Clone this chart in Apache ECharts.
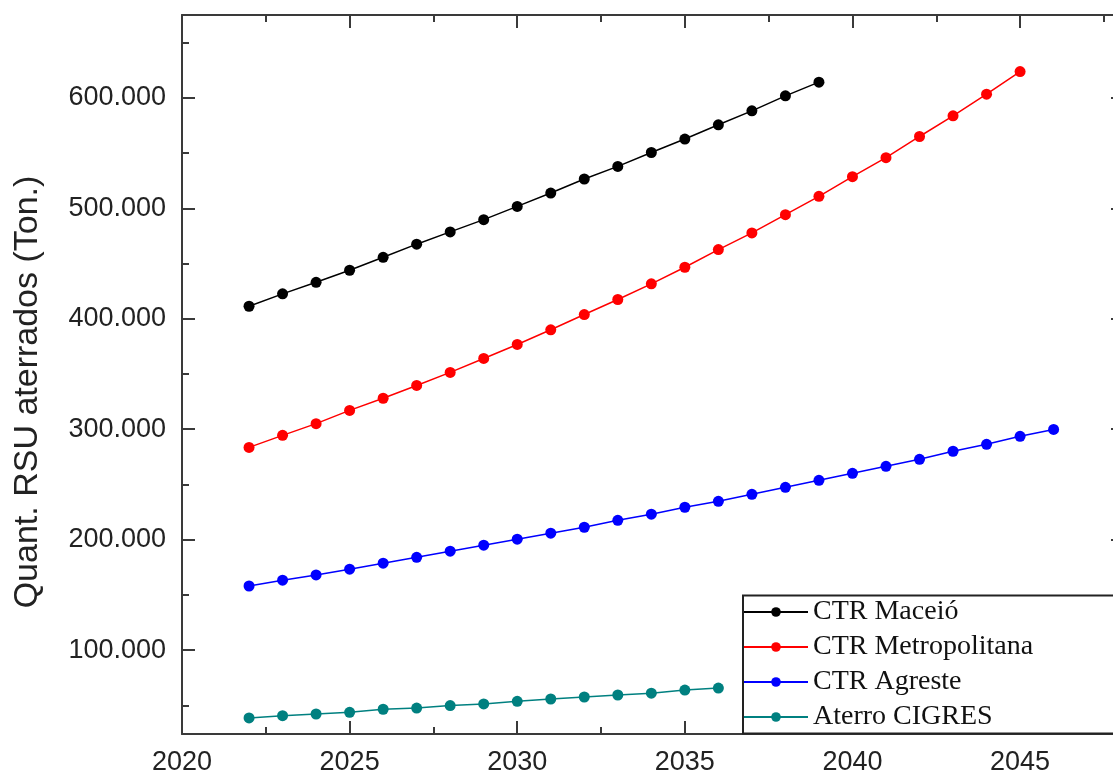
<!DOCTYPE html>
<html>
<head>
<meta charset="utf-8">
<script src="https://cdn.jsdelivr.net/npm/echarts@6/dist/echarts.min.js"></script>
<style>
html,body{margin:0;padding:0;background:#fff;}
#chart{width:1113px;height:774px;}
</style>
</head>
<body>
<div id="chart"></div>
<script>
const seriesNames = ['CTR Maceió', 'CTR Metropolitana', 'CTR Agreste', 'Aterro CIGRES'];
const yAxisTitle = 'Quant. RSU aterrados (Ton.)';
const yearsMaceio = [2022,2023,2024,2025,2026,2027,2028,2029,2030,2031,2032,2033,2034,2035,2036,2037,2038,2039];
const valuesMaceio = [411300,422500,433000,443900,455600,467500,478600,489700,501700,513800,526500,537900,550500,562700,575600,588200,601800,614200];
const yearsMetro = [2022,2023,2024,2025,2026,2027,2028,2029,2030,2031,2032,2033,2034,2035,2036,2037,2038,2039,2040,2041,2042,2043,2044,2045];
const valuesMetro = [283500,294400,305000,317000,328000,339600,351400,364000,376700,390000,403800,417400,431600,446600,462600,477700,494200,510800,528600,545800,565000,583700,603300,623800];
const yearsAgreste = [2022,2023,2024,2025,2026,2027,2028,2029,2030,2031,2032,2033,2034,2035,2036,2037,2038,2039,2040,2041,2042,2043,2044,2045,2046];
const valuesAgreste = [158000,163300,168000,173200,178700,184000,189500,195000,200400,205800,211200,217500,223000,229300,234700,241000,247400,253700,260000,266400,272700,280000,286300,293500,299800];
const yearsCigres = [2022,2023,2024,2025,2026,2027,2028,2029,2030,2031,2032,2033,2034,2035,2036];
const valuesCigres = [38500,40600,42100,43600,46400,47500,49700,51200,53600,55700,57500,59300,61000,63800,65600];
const xMajorTicks = [2020,2025,2030,2035,2040,2045];
const xMinorTicks = [2022.5,2027.5,2032.5,2037.5,2042.5,2047.5];
const yMajorTicks = [100000,200000,300000,400000,500000,600000];
const yMinorTicks = [50000,150000,250000,350000,450000,550000,650000];
const yTickLabels = ['100.000','200.000','300.000','400.000','500.000','600.000'];
const colors = ['#000000','#ff0000','#0000ff','#008080'];

const X_MIN = 2020, X_MAX = 2048.1, Y_MIN = 24000, Y_MAX = 675000;
const frameColor = '#3a3a3a';

function pairs(xs, ys){ return xs.map((x,i)=>[x, ys[i]]); }

function xAx(pos, ticks, len, showLabel, showLine){
  return {
    type:'value', position:pos, min:X_MIN, max:X_MAX,
    axisLine:{show:showLine, lineStyle:{color:frameColor, width:2}},
    axisTick:{show:true, inside:true, length:len, customValues:ticks, lineStyle:{color:frameColor, width:2}},
    axisLabel:{show:showLabel, customValues:ticks, margin:15, fontFamily:'Liberation Sans', fontSize:27, color:'#222',
      formatter:v=>String(v)},
    splitLine:{show:false}
  };
}
function yAx(pos, ticks, len, showLabel, showLine){
  return {
    type:'value', position:pos, min:Y_MIN, max:Y_MAX,
    axisLine:{show:showLine, lineStyle:{color:frameColor, width:2}},
    axisTick:{show:true, inside:true, length:len, customValues:ticks, lineStyle:{color:frameColor, width:2}},
    axisLabel:{show:showLabel, customValues:ticks, margin:16, fontFamily:'Liberation Sans', fontSize:27, color:'#222',
      formatter:v=>{const i=yMajorTicks.indexOf(v); return i>=0?yTickLabels[i]:'';}},
    splitLine:{show:false}
  };
}

const data = [pairs(yearsMaceio, valuesMaceio), pairs(yearsMetro, valuesMetro), pairs(yearsAgreste, valuesAgreste), pairs(yearsCigres, valuesCigres)];

const chart = echarts.init(document.getElementById('chart'), null, {renderer:'canvas'});
chart.setOption({
  animation:false,
  backgroundColor:'#ffffff',
  grid:{left:182, right:-11, top:15, bottom:40, containLabel:false, outerBoundsMode:'none'},
  xAxis:[
    xAx('bottom', xMajorTicks, 13, true, true),
    xAx('bottom', xMinorTicks, 7, false, false),
    xAx('top', xMajorTicks, 13, false, true),
    xAx('top', xMinorTicks, 7, false, false)
  ],
  yAxis:[
    yAx('left', yMajorTicks, 13, true, true),
    yAx('left', yMinorTicks, 7, false, false),
    yAx('right', yMajorTicks, 13, false, true),
    yAx('right', yMinorTicks, 7, false, false)
  ],
  graphic:[{
    type:'text', x:28, y:392, rotation:Math.PI/2,
    style:{text:yAxisTitle, fill:'#222', font:'34px "Liberation Sans"', align:'center', verticalAlign:'middle'}
  }],
  legend:{
    show:true, orient:'vertical', left:743, top:595.5,
    padding:[0, 500, 0, 0], itemGap:2, itemWidth:64, itemHeight:12,
    backgroundColor:'#ffffff', borderColor:'#222', borderWidth:2, borderRadius:0,
    textStyle:{fontFamily:'Liberation Serif', fontSize:28, color:'#111', lineHeight:33},
    data:seriesNames
  },
  series:seriesNames.map((n,i)=>({
    name:n, type:'line', xAxisIndex:0, yAxisIndex:0,
    data:data[i], symbol:'circle', symbolSize:11, showSymbol:true,
    itemStyle:{color:colors[i]}, lineStyle:{color:colors[i], width:1.5},
    z:2
  }))
});
</script>
</body>
</html>
